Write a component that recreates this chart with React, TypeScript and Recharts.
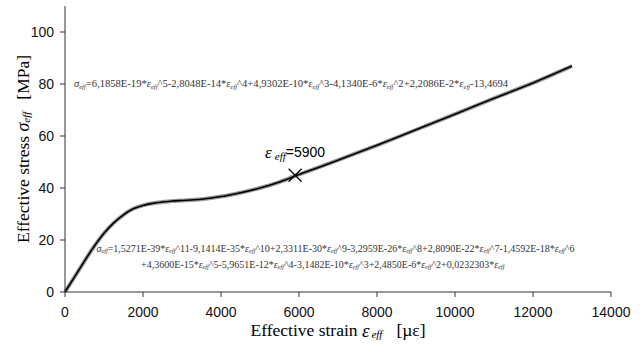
import React from 'react';
import { ComposedChart, Line, Scatter, XAxis, YAxis, ReferenceDot, Label } from 'recharts';

// effective strain [µε] and effective stress [MPa]
const strain = [0, 250, 500, 750, 1000, 1250, 1500, 1750, 2000, 2250, 2500, 2750, 3000, 3500, 4000, 4500, 5000, 5500, 6000, 6500, 7000, 8000, 9000, 10000, 11000, 12000, 13000];
const stress = [0, 5.9, 11.9, 17.6, 22.6, 26.6, 29.7, 32.0, 33.3, 34.1, 34.6, 35.0, 35.2, 35.7, 36.7, 38.2, 40.0, 42.3, 45.2, 47.9, 50.7, 56.4, 62.4, 68.4, 74.5, 80.4, 86.9];

// marked point
const markStrain = [5900];
const markStress = [44.9];

const xTicks = [0, 2000, 4000, 6000, 8000, 10000, 12000, 14000];
const yTicks = [0, 20, 40, 60, 80, 100];

const upperFit = 'σ=6,1858E-19*ε^5-2,8048E-14*ε^4+4,9302E-10*ε^3-4,1340E-6*ε^2+2,2086E-2*ε-13,4694';
const lowerFit1 = 'σ=1,5271E-39*ε^11-9,1414E-35*ε^10+2,3311E-30*ε^9-3,2959E-26*ε^8+2,8090E-22*ε^7-1,4592E-18*ε^6';
const lowerFit2 = '+4,3600E-15*ε^5-5,9651E-12*ε^4-3,1482E-10*ε^3+2,4850E-6*ε^2+0,0232303*ε';

const data = strain.map((x, i) => ({ x, y: stress[i] }));
const marks = markStrain.map((x, i) => ({ x, y: markStress[i] }));

const SERIF = '"Liberation Serif", "Times New Roman", serif';
const SANS = '"Liberation Sans", Arial, sans-serif';

// σ / ε get an italic "eff" subscript
function rich(s: string, size: number) {
  const out: any[] = [];
  const sub = size * 0.25;
  let pending = 0;
  s.split(/([σε])/).forEach((p, i) => {
    if (!p) return;
    if (p === 'σ' || p === 'ε') {
      out.push(<tspan key={i + 'a'} fontStyle="italic" dy={pending || undefined}>{p}</tspan>);
      out.push(<tspan key={i + 'b'} fontStyle="italic" fontSize={size * 0.62} dy={sub}>eff</tspan>);
      pending = -sub;
    } else {
      out.push(<tspan key={i} dy={pending || undefined}>{p}</tspan>);
      pending = 0;
    }
  });
  return out;
}

const formula = (s: string, size: number) => (props: any) => (
  <text x={props.cx} y={props.cy} fontFamily={SERIF} fontSize={size} fill="#333" dominantBaseline="central">
    {rich(s, size)}
  </text>
);

const Cross = (props: any) => {
  const { cx, cy } = props;
  const d = 6.5;
  return (
    <g stroke="#000" strokeWidth={1.2}>
      <line x1={cx - d} y1={cy - d} x2={cx + d} y2={cy + d} />
      <line x1={cx - d} y1={cy + d} x2={cx + d} y2={cy - d} />
    </g>
  );
};

const markLabel = (props: any) => (
  <text x={props.cx} y={props.cy} dominantBaseline="central" fill="#000">
    <tspan fontFamily={SERIF} fontStyle="italic" fontSize={17}>ε</tspan>
    <tspan fontFamily={SERIF} fontStyle="italic" fontSize={11} dx={3} dy={4}>eff</tspan>
    <tspan fontFamily={SANS} fontSize={14} dy={-4}>=5900</tspan>
  </text>
);

const YTitle = (props: any) => {
  const vb = props.viewBox || { x: 25, y: 6, width: 40, height: 286 };
  const cx = 23;
  const cy = vb.y + vb.height / 2;
  return (
    <text x={cx} y={cy} transform={`rotate(-90, ${cx}, ${cy})`} textAnchor="middle" dominantBaseline="central" fontFamily={SERIF} fontSize={17.5} fill="#000">
      <tspan>Effective stress </tspan>
      <tspan fontStyle="italic" fontSize={18}>σ</tspan>
      <tspan fontStyle="italic" fontSize={11} dy={3}>eff</tspan>
      <tspan dx={12} dy={-3}>[MPa]</tspan>
    </text>
  );
};

const XTitle = (props: any) => {
  const vb = props.viewBox || { x: 65, y: 292, width: 546, height: 30 };
  const cx = vb.x + vb.width / 2;
  const cy = 330;
  return (
    <text x={cx} y={cy} textAnchor="middle" dominantBaseline="central" fontFamily={SERIF} fontSize={17.5} fill="#000">
      <tspan>Effective strain </tspan>
      <tspan fontStyle="italic" fontSize={19}>ε</tspan>
      <tspan fontStyle="italic" fontSize={11} dx={2} dy={4}>eff</tspan>
      <tspan dx={14} dy={-4}>[µε]</tspan>
    </text>
  );
};

export default function App() {
  return (
    <div style={{ position: 'absolute', left: 0, top: 0, width: 643, height: 344, background: '#fff' }}>
      <ComposedChart width={643} height={344} data={data} margin={{ top: 6, right: 32, left: 25, bottom: 22 }}>
        <XAxis
          type="number"
          dataKey="x"
          domain={[0, 14000]}
          ticks={xTicks}
          height={30}
          tickSize={5}
          tickMargin={10}
          stroke="#333"
          tick={{ fontFamily: SANS, fontSize: 14, fill: '#111' }}
          interval={0}
        >
          <Label content={XTitle} />
        </XAxis>
        <YAxis
          type="number"
          dataKey="y"
          domain={[0, 110]}
          ticks={yTicks}
          width={40}
          tickSize={5}
          tickMargin={6}
          stroke="#333"
          tick={{ fontFamily: SANS, fontSize: 14, fill: '#111' }}
          interval={0}
        >
          <Label content={YTitle} />
        </YAxis>
        <Line type="monotone" dataKey="y" stroke="#9a9a9a" strokeWidth={4} dot={false} isAnimationActive={false} />
        <Line type="monotone" dataKey="y" stroke="#000" strokeWidth={1.6} dot={false} isAnimationActive={false} />
        <Scatter data={marks} dataKey="y" shape={Cross} isAnimationActive={false} />
        <ReferenceDot x={230} y={80.3} r={0} shape={formula(upperFit, 10.6)} />
        <ReferenceDot x={810} y={17.1} r={0} shape={formula(lowerFit1, 10)} />
        <ReferenceDot x={1950} y={10.9} r={0} shape={formula(lowerFit2, 10)} />
        <ReferenceDot x={5130} y={53.8} r={0} shape={markLabel} />
      </ComposedChart>
    </div>
  );
}
